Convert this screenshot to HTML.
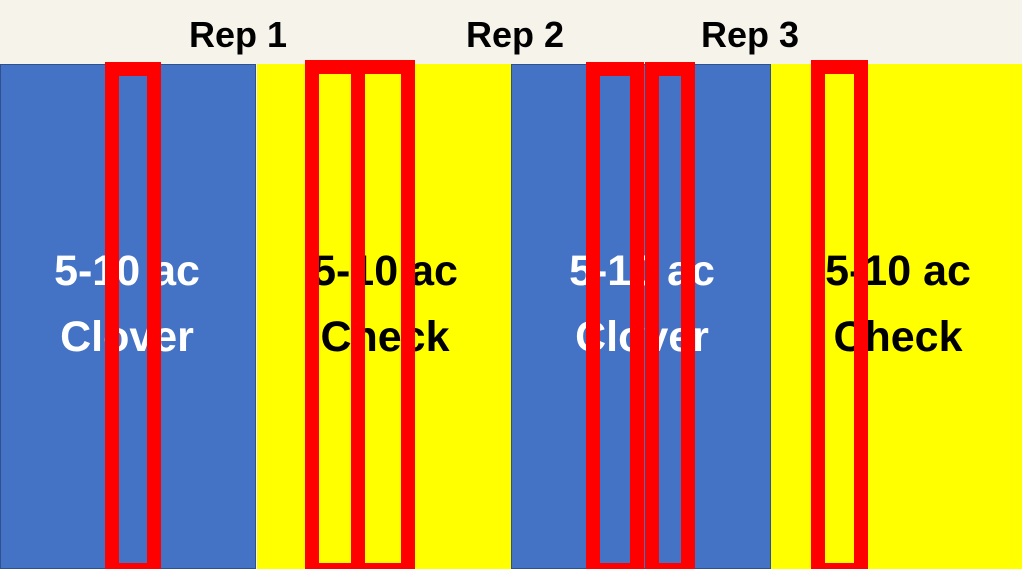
<!DOCTYPE html>
<html style="overflow:hidden"><head><style>
html,body{margin:0;width:1022px;height:569px;overflow:hidden}
body{background:#f6f3ea;position:relative;font-family:"Liberation Sans",sans-serif}
.p{position:absolute;top:64px;height:505px}
.b{background:#4472c4;border:1px solid #2f528f;box-sizing:border-box}
.y{background:#ffff00}
.rep{position:absolute;top:14px;font-weight:bold;font-size:36px;color:#000}
.t{position:absolute;width:260px;text-align:center;font-weight:bold;font-size:43px;line-height:66px;top:238px}
.r{position:absolute;border:14px solid #ff0000;box-sizing:border-box}
</style></head><body>
<div class="rep" style="left:189px">Rep 1</div>
<div class="rep" style="left:466px">Rep 2</div>
<div class="rep" style="left:701px">Rep 3</div>
<div class="p b" style="left:0;width:256px"></div>
<div class="p y" style="left:257px;width:254px"></div>
<div class="p b" style="left:511px;width:260px"></div>
<div class="p y" style="left:771px;width:251px"></div>
<div class="t" style="left:-3px;color:#fff">5-10 ac<br>Clover</div>
<div class="t" style="left:255px;color:#000">5-10 ac<br>Check</div>
<div class="t" style="left:512px;color:#fff">5-10 ac<br>Clover</div>
<div class="t" style="left:768px;color:#000">5-10 ac<br>Check</div>
<div class="r" style="left:105px;top:62px;width:56px;height:515px"></div>
<div class="r" style="left:305px;top:60px;width:60px;height:517px"></div>
<div class="r" style="left:351px;top:60px;width:64px;height:517px"></div>
<div class="r" style="left:586px;top:62px;width:58px;height:515px"></div>
<div class="r" style="left:645px;top:62px;width:50px;height:515px"></div>
<div class="r" style="left:811px;top:60px;width:57px;height:517px"></div>
</body></html>
